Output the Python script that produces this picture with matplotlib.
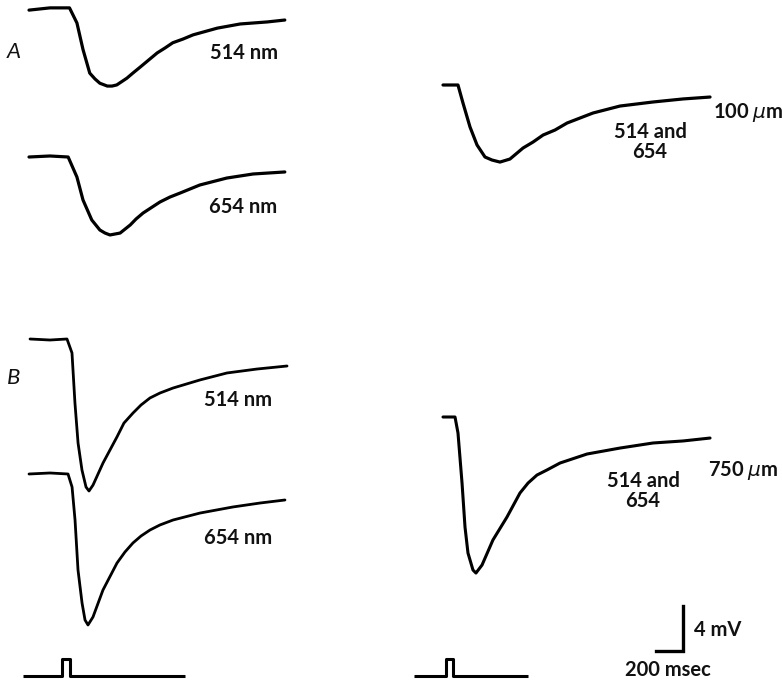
import matplotlib
matplotlib.use("Agg")
import matplotlib.pyplot as plt

plt.rcParams['font.family'] = ['Lato', 'DejaVu Sans']

# recording scale: 200 msec ~ 27 px, 4 mV ~ 45 px
MS_PER_PX = 200 / 27
MV_PER_PX = 4 / 45

# A: 514 nm (time ms from trace start, mV from baseline)
a514_t = [0, 155, 300, 355, 400, 450, 489, 525, 580, 615, 650, 725, 770, 820, 950, 1007, 1065, 1141, 1215, 1395, 1565, 1765, 1895]
a514_v = [-0.1, 0.1, 0.1, -1.24, -3.6, -5.7, -6.22, -6.6, -6.85, -6.85, -6.75, -6.15, -5.69, -5.2, -3.9, -3.47, -3.0, -2.67, -2.3, -1.7, -1.33, -1.15, -0.98]

# A: 654 nm
a654_t = [0, 155, 290, 355, 400, 465, 525, 563, 600, 675, 750, 793, 845, 970, 1044, 1120, 1265, 1465, 1660, 1895]
a654_v = [0, 0.09, 0, -1.78, -3.82, -5.6, -6.49, -6.76, -6.93, -6.76, -6.04, -5.51, -4.98, -4.0, -3.56, -3.2, -2.49, -1.87, -1.51, -1.33]

# A: 514 and 654 at 100 um
a100_t = [0, 111, 148, 200, 252, 311, 363, 422, 496, 593, 667, 741, 830, 919, 1111, 1311, 1556, 1778, 1978]
a100_v = [0, 0, -1.6, -3.73, -5.33, -6.4, -6.67, -6.85, -6.58, -5.6, -5.07, -4.45, -4.0, -3.38, -2.49, -1.87, -1.51, -1.24, -1.07]

# B: 514 nm
b514_t = [0, 148, 274, 311, 333, 356, 385, 415, 437, 467, 541, 644, 696, 763, 822, 889, 963, 1059, 1259, 1459, 1681, 1904]
b514_v = [0, -0.09, 0, -1.24, -5.69, -9.25, -11.65, -13.16, -13.51, -12.98, -11.02, -8.71, -7.47, -6.58, -5.87, -5.24, -4.8, -4.36, -3.64, -3.02, -2.67, -2.4]

# B: 654 nm
b654_t = [0, 156, 289, 319, 341, 363, 393, 415, 437, 474, 548, 652, 711, 770, 830, 896, 970, 1067, 1267, 1511, 1711, 1896]
b654_v = [0, 0.09, 0, -1.16, -4.09, -8.53, -11.47, -12.98, -13.42, -12.71, -10.31, -7.91, -6.93, -6.13, -5.51, -4.98, -4.53, -4.09, -3.47, -2.93, -2.58, -2.31]

# B: 514 and 654 at 750 um
b750_t = [0, 89, 111, 141, 163, 185, 222, 244, 289, 370, 474, 570, 630, 696, 770, 867, 1067, 1311, 1556, 1778, 1978]
b750_v = [0, 0, -1.42, -5.87, -9.78, -12.09, -13.6, -13.87, -13.16, -10.93, -8.89, -6.76, -5.87, -5.16, -4.71, -4.09, -3.29, -2.76, -2.31, -2.13, -1.87]

# light stimulus monitor
stimL_t = [0, 289, 289, 348, 348, 1200]
stimR_t = [0, 237, 237, 289, 289, 844]
stim_v = [0, 0, 1.5, 1.5, 0, 0]


def px(x, y):
    # figure pixel -> data coords
    return x * MS_PER_PX, -y * MV_PER_PX


fig = plt.figure(figsize=(7.82, 6.82), dpi=100, facecolor='white')
ax = fig.add_axes([0, 0, 1, 1])
ax.set_xlim(0, 782 * MS_PER_PX)
ax.set_ylim(-682 * MV_PER_PX, 0)
ax.set_axis_off()

traces = [
    (a514_t, a514_v, (29, 9), 2.3),
    (a654_t, a654_v, (29, 157), 2.3),
    (a100_t, a100_v, (443, 85), 2.3),
    (b514_t, b514_v, (30, 339), 2.0),
    (b654_t, b654_v, (29, 474), 2.0),
    (b750_t, b750_v, (443, 417), 2.2),
]
for t, v, (x0, y0), lw in traces:
    ox, oy = px(x0, y0)
    ax.plot([ox + ti for ti in t], [oy + vi for vi in v], color='black', lw=lw,
            solid_capstyle='round', solid_joinstyle='round')

for t, (x0, y0) in [(stimL_t, (23, 676)), (stimR_t, (414, 676))]:
    ox, oy = px(x0, y0)
    ax.plot([ox + ti for ti in t], [oy + vi for vi in stim_v], color='black', lw=2.2,
            solid_capstyle='butt')

# calibration bar
cx, cy = px(683, 651)
ax.plot([cx - 200, cx, cx], [cy, cy, cy + 4], color='black', lw=2.4, solid_joinstyle='miter')

fs = 14.5


def txt(x, y, s, ha='center', **kw):
    X, Y = px(x, y)
    kw.setdefault('fontsize', fs)
    kw.setdefault('fontweight', 'bold')
    ax.text(X, Y, s, ha=ha, va='center', color='#111111', **kw)


txt(14, 52, 'A', style='italic', fontsize=16, fontweight='normal')
txt(14, 378, 'B', style='italic', fontsize=16, fontweight='normal')
txt(244, 53, '514 nm')
txt(243, 207, '654 nm')
txt(238, 400, '514 nm')
txt(238, 538, '654 nm')
txt(650, 142, '514 and\n654', linespacing=0.95)
txt(643, 491, '514 and\n654', linespacing=0.95)
txt(713, 112, r'100 $\mu$m', ha='left')
txt(708, 470, r'750 $\mu$m', ha='left')
txt(694, 630, '4 mV', ha='left')
txt(668, 670, '200 msec')

fig.savefig('out.png', dpi=100, facecolor='white')
